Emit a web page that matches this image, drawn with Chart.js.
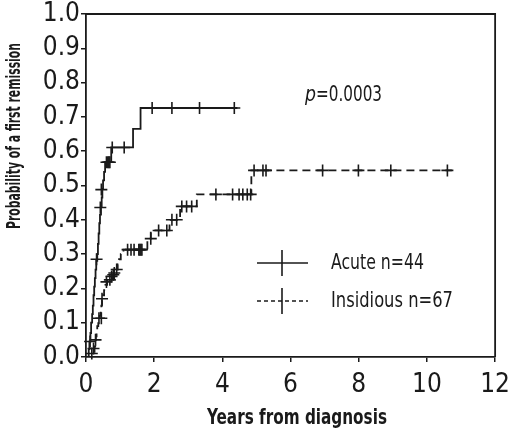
<!DOCTYPE html>
<html>
<head>
<meta charset="utf-8">
<script src="https://cdn.jsdelivr.net/npm/chart.js@4.4.1/dist/chart.umd.min.js"></script>
<style>
  body { margin: 0; background: #fff; }
  #wrap { width: 520px; height: 434px; }
</style>
</head>
<body>
<div id="wrap"><canvas id="kmChart" width="520" height="434"></canvas></div>
<script>
// Acute onset (n=44): times (years) where the KM estimate steps, and the value after each step
var acuteTimes = [0, 0.08, 0.10, 0.13, 0.15, 0.18, 0.20, 0.22, 0.24, 0.26, 0.28, 0.30, 0.33, 0.35, 0.37, 0.39, 0.41, 0.44, 0.46, 0.48, 0.50, 0.53, 0.56, 0.74, 1.38, 1.60, 4.44];
var acuteProb  = [0, 0.023, 0.045, 0.07, 0.10, 0.125, 0.15, 0.18, 0.205, 0.23, 0.255, 0.28, 0.30, 0.33, 0.36, 0.39, 0.415, 0.44, 0.465, 0.49, 0.515, 0.54, 0.568, 0.611, 0.665, 0.726, 0.726];
// acute censored cases
var acuteCensT = [0.12, 0.31, 0.42, 0.45, 0.60, 0.64, 0.67, 0.70, 0.77, 1.12, 1.94, 2.52, 3.33, 4.35];
var acuteCensP = [0.045, 0.285, 0.436, 0.488, 0.568, 0.568, 0.568, 0.568, 0.611, 0.611, 0.726, 0.726, 0.726, 0.726];

// Insidious onset (n=67)
var insidTimes = [0, 0.22, 0.25, 0.27, 0.29, 0.31, 0.33, 0.36, 0.40, 0.43, 0.45, 0.47, 0.50, 0.53, 0.57, 0.62, 0.78, 0.88, 0.93, 0.97, 1.02, 1.10, 1.80, 1.90, 2.45, 2.76, 3.25, 4.85, 10.73];
var insidProb  = [0, 0.015, 0.03, 0.045, 0.06, 0.075, 0.09, 0.105, 0.12, 0.135, 0.15, 0.165, 0.18, 0.195, 0.21, 0.225, 0.24, 0.255, 0.27, 0.285, 0.30, 0.313, 0.345, 0.369, 0.40, 0.439, 0.474, 0.544, 0.544];
var insidCensT = [0.17, 0.22, 0.28, 0.38, 0.45, 0.47, 0.60, 0.70, 0.75, 0.80, 0.83, 0.90, 1.22, 1.32, 1.41, 1.55, 1.58, 1.61, 1.64, 1.90, 2.13, 2.37, 2.52, 2.66, 2.81, 2.95, 3.10, 3.81, 4.30, 4.49, 4.60, 4.73, 4.83, 4.93, 5.19, 5.28, 6.94, 7.99, 8.94, 10.60];
var insidCensP = [0.01, 0.025, 0.05, 0.113, 0.113, 0.17, 0.219, 0.225, 0.235, 0.24, 0.245, 0.255, 0.313, 0.313, 0.313, 0.313, 0.313, 0.313, 0.313, 0.345, 0.369, 0.369, 0.40, 0.40, 0.439, 0.439, 0.439, 0.474, 0.474, 0.474, 0.474, 0.474, 0.474, 0.544, 0.544, 0.544, 0.544, 0.544, 0.544, 0.544];

var seriesNames = ['Acute n=44', 'Insidious n=67'];
var xTitle = 'Years from diagnosis';
var yTitle = 'Probability of a first remission';
var pText = '=0.0003';

var narrow = '"DejaVu Sans Condensed", "Liberation Sans Narrow", sans-serif';
var ink = '#1a1a1a';

function toPoints(xs, ys) {
  var out = [];
  for (var i = 0; i < xs.length; i++) out.push({ x: xs[i], y: ys[i] });
  return out;
}

// frame, titles, p value and the legend drawn onto the canvas
var extras = {
  id: 'extras',
  afterDraw: function(chart) {
    var ctx = chart.ctx, a = chart.chartArea;
    ctx.save();
    ctx.strokeStyle = ink;
    ctx.fillStyle = ink;
    ctx.lineWidth = 1.8;
    ctx.beginPath();
    ctx.moveTo(a.left, a.top);
    ctx.lineTo(a.right, a.top);
    ctx.lineTo(a.right, a.bottom);
    ctx.stroke();

    // axis titles (squeezed to the narrow face of the original)
    ctx.font = 'bold 21px ' + narrow;
    ctx.textAlign = 'center';
    ctx.textBaseline = 'middle';
    ctx.fillText(xTitle, 297, 419, 180);
    ctx.save();
    ctx.translate(15, 136);
    ctx.rotate(-Math.PI / 2);
    ctx.font = 'bold 20px ' + narrow;
    ctx.fillText(yTitle, 0, 0, 186);
    ctx.restore();

    // p value
    ctx.textAlign = 'left';
    ctx.textBaseline = 'alphabetic';
    ctx.font = 'italic 22px ' + narrow;
    ctx.fillText('p', 305, 101, 11);
    ctx.font = '22px ' + narrow;
    ctx.fillText(pText, 316, 101, 66);

    // legend
    var rows = [{ y: 263, dash: [], w: 93 }, { y: 301, dash: [4, 3], w: 122 }];
    ctx.lineWidth = 1.6;
    ctx.textBaseline = 'middle';
    ctx.font = '21px ' + narrow;
    rows.forEach(function(r, i) {
      ctx.setLineDash(r.dash);
      ctx.beginPath();
      ctx.moveTo(257, r.y);
      ctx.lineTo(308, r.y);
      ctx.stroke();
      ctx.setLineDash([]);
      ctx.beginPath();
      ctx.moveTo(282, r.y - 13);
      ctx.lineTo(282, r.y + 13);
      ctx.stroke();
      ctx.fillText(seriesNames[i], 331, r.y + 1, r.w);
    });
    ctx.restore();
  }
};

var tickFont = { family: narrow, size: 26, lineHeight: 1 };

new Chart(document.getElementById('kmChart'), {
  type: 'scatter',
  data: {
    datasets: [
      { label: seriesNames[0], data: toPoints(acuteTimes, acuteProb), showLine: true, stepped: true,
        borderColor: ink, borderWidth: 1.8, pointRadius: 0, fill: false },
      { label: seriesNames[1], data: toPoints(insidTimes, insidProb), showLine: true, stepped: true,
        borderColor: ink, borderWidth: 1.8, borderDash: [8, 5], pointRadius: 0, fill: false },
      { label: 'acute censored', data: toPoints(acuteCensT, acuteCensP), showLine: false,
        pointStyle: 'cross', pointRadius: 6, pointBorderColor: ink, pointBorderWidth: 1.6, clip: false },
      { label: 'insidious censored', data: toPoints(insidCensT, insidCensP), showLine: false,
        pointStyle: 'cross', pointRadius: 6, pointBorderColor: ink, pointBorderWidth: 1.6, clip: false }
    ]
  },
  options: {
    responsive: false,
    animation: false,
    layout: { padding: { top: 13, right: 18, left: 0, bottom: 0 } },
    plugins: { legend: { display: false }, tooltip: { enabled: false } },
    scales: {
      x: {
        type: 'linear', min: 0, max: 12,
        ticks: { stepSize: 2, color: ink, font: tickFont, padding: 10 },
        grid: { drawOnChartArea: false, tickLength: 5, color: ink, lineWidth: 1.5 },
        border: { color: ink, width: 1.8 },
        afterFit: function(s) { s.height = 77; }
      },
      y: {
        min: 0, max: 1,
        ticks: { stepSize: 0.1, color: ink, font: tickFont, padding: 1,
                 callback: function(v) { return v.toFixed(1); } },
        grid: { drawOnChartArea: false, tickLength: 5, color: ink, lineWidth: 1.5 },
        border: { color: ink, width: 1.8 },
        afterFit: function(s) { s.width = 86; }
      }
    }
  },
  plugins: [extras]
});
</script>
</body>
</html>
